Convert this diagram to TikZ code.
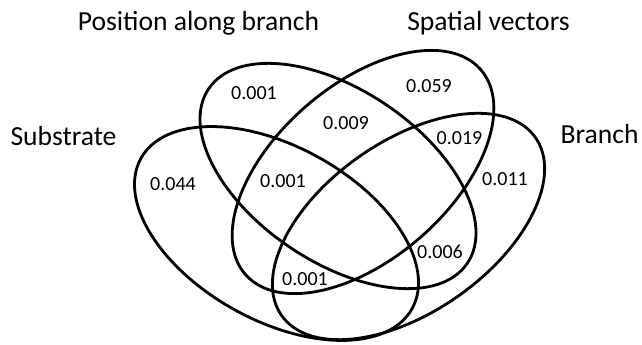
\documentclass[tikz,border=0pt]{standalone}
\usepackage{fontspec}
\setmainfont{Carlito}
\begin{document}
\begin{tikzpicture}[x=1pt,y=1pt,
  venn/.style={line width=2.8pt,black},
  setlabel/.style={anchor=base,inner sep=0pt,font=\fontsize{27.6}{30}\selectfont},
  val/.style={anchor=base,inner sep=0pt,font=\fontsize{20}{22}\selectfont}]
\useasboundingbox (0,0) rectangle (642,345);
% ellipses
\draw[venn,rotate around={-29:(276.5,111.5)}] (276.5,111.5) ellipse [x radius=155pt, y radius=87pt];
\draw[venn,rotate around={-34:(338,169)}] (338,169) ellipse [x radius=156pt, y radius=86pt];
\draw[venn,rotate around={41:(363,173)}] (363,173) ellipse [x radius=156pt, y radius=87pt];
\draw[venn,rotate around={35:(408.5,118.5)}] (408.5,118.5) ellipse [x radius=155pt, y radius=85.5pt];
% set labels
\node[setlabel] (lp) at (198.5,314) {Position along branch};
\node[setlabel] (lv) at (488.5,314) {Spatial vectors};
\node[setlabel] (ls) at (63.5,199) {Substrate};
\node[setlabel] (lb) at (599.5,201) {Branch};
% values
\node[val] (v1) at (254,245) {0.001};
\node[val] (v2) at (429,252) {0.059};
\node[val] (v3) at (346,215) {0.009};
\node[val] (v4) at (459.5,200) {0.019};
\node[val] (v5) at (173,154) {0.044};
\node[val] (v6) at (283,157) {0.001};
\node[val] (v7) at (505,159) {0.011};
\node[val] (v8) at (440,86) {0.006};
\node[val] (v9) at (305,59) {0.001};
\end{tikzpicture}
\end{document}
